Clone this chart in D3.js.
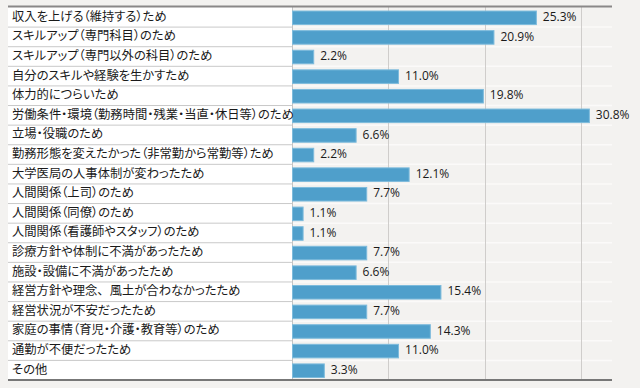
<!DOCTYPE html>
<html>
<head>
<meta charset="utf-8">
<script src="https://cdn.jsdelivr.net/npm/d3@7"></script>
<style>
  html, body { margin: 0; padding: 0; background: #f3f2f0; }
  svg { display: block; }
  .cat { font-family: "Noto Sans CJK JP", sans-serif; font-size: 12.3px; fill: #1a1a1a; font-feature-settings: "palt"; }
  .cat .wide { font-feature-settings: normal; }
  .val { font-family: "Open Sans", "Noto Sans", sans-serif; font-size: 12px; fill: #1a1a1a; }
</style>
</head>
<body>
<svg id="chart" width="640" height="388"></svg>
<script>
// categories (top to bottom)
const categories = [
  '収入を上げる（維持する）ため',
  'スキルアップ（専門科目）のため',
  'スキルアップ（専門以外の科目）のため',
  '自分のスキルや経験を生かすため',
  '体力的につらいため',
  '労働条件・環境（勤務時間・残業・当直・休日等）のため',
  '立場・役職のため',
  '勤務形態を変えたかった（非常勤から常勤等）ため',
  '大学医局の人事体制が変わったため',
  '人間関係（上司）のため',
  '人間関係（同僚）のため',
  '人間関係（看護師やスタッフ）のため',
  '診療方針や体制に不満があったため',
  '施設・設備に不満があったため',
  '経営方針や理念、風土が合わなかったため',
  '経営状況が不安だったため',
  '家庭の事情（育児・介護・教育等）のため',
  '通勤が不便だったため',
  'その他'
]
// percentages
const values = [25.3, 20.9, 2.2, 11.0, 19.8, 30.8, 6.6, 2.2, 12.1, 7.7, 1.1, 1.1, 7.7, 6.6, 15.4, 7.7, 14.3, 11.0, 3.3]
const gridTicks = [10, 20, 30]

const svg = d3.select('#chart')
const plotLeft = 8, axisX = 292, plotRight = 612
const plotTop = 7, plotBottom = 379.5

let x = d3.scaleLinear().domain([0, 33.2]).range([axisX, plotRight])
let y = d3.scaleBand().domain(categories).range([plotTop, plotBottom]).paddingInner(0).paddingOuter(0)
let barPad = 0.18

// label column
svg.append('rect')
  .attr('x', plotLeft).attr('y', plotTop)
  .attr('width', axisX - plotLeft).attr('height', plotBottom - plotTop)
  .style('fill', 'white')

// row separators
svg.append('g').selectAll('line')
  .data(categories.slice(1))
  .join('line')
  .attr('x1', plotLeft).attr('x2', axisX)
  .attr('y1', d => y(d) + 0.5).attr('y2', d => y(d) + 0.5)
  .style('stroke', '#c9c9c9')
  .style('stroke-width', 1)

svg.append('g').selectAll('line')
  .data(categories.slice(1))
  .join('line')
  .attr('x1', axisX).attr('x2', plotRight)
  .attr('y1', d => y(d) + 0.5).attr('y2', d => y(d) + 0.5)
  .style('stroke', '#fbfaf9')
  .style('stroke-width', 1.5)

// grid lines
svg.append('g').selectAll('line')
  .data(gridTicks)
  .join('line')
  .attr('x1', d => Math.round(x(d)) + 0.5).attr('x2', d => Math.round(x(d)) + 0.5)
  .attr('y1', plotTop).attr('y2', plotBottom)
  .style('stroke', '#cfcdcb')
  .style('stroke-width', 1)

// axis line
svg.append('line')
  .attr('x1', axisX + 0.5).attr('x2', axisX + 0.5)
  .attr('y1', plotTop).attr('y2', plotBottom)
  .style('stroke', '#c4c4c4')

// bars
svg.append('g').selectAll('rect')
  .data(values)
  .join('rect')
  .attr('x', x(0) + 0.5)
  .attr('y', (d, i) => y(categories[i]) + y.bandwidth() * barPad + 0.5)
  .attr('width', d => x(d) - x(0))
  .attr('height', y.bandwidth() * (1 - 2 * barPad) + 1)
  .style('fill', '#4f9fcb')
  .style('stroke', '#7dbbdc')
  .style('stroke-width', 1)

// value labels
svg.append('g').selectAll('text')
  .data(values)
  .join('text')
  .attr('class', 'val')
  .attr('x', d => x(d) + 7)
  .attr('y', (d, i) => y(categories[i]) + y.bandwidth() / 2 + 1)
  .attr('dominant-baseline', 'middle')
  .text(d => d.toFixed(1) + '%')

// category labels (the 、 keeps its full width, as in the original)
let labels = svg.append('g').selectAll('text')
  .data(categories)
  .join('text')
  .attr('class', 'cat')
  .attr('x', 12)
  .attr('y', d => y(d) + y.bandwidth() / 2 + 1)
  .attr('dominant-baseline', 'middle')

labels.each(function(d) {
  let parts = d.split(/(、)/)
  d3.select(this).selectAll('tspan')
    .data(parts.filter(p => p !== ''))
    .join('tspan')
    .attr('class', p => p === '、' ? 'wide' : null)
    .text(p => p)
})

// top and bottom rules
svg.append('line')
  .attr('x1', plotLeft).attr('x2', plotRight)
  .attr('y1', plotTop - 0.5).attr('y2', plotTop - 0.5)
  .style('stroke', '#8a8888').style('stroke-width', 2)
svg.append('line')
  .attr('x1', plotLeft).attr('x2', plotRight)
  .attr('y1', plotBottom + 0.5).attr('y2', plotBottom + 0.5)
  .style('stroke', '#777777').style('stroke-width', 2)
</script>
</body>
</html>
